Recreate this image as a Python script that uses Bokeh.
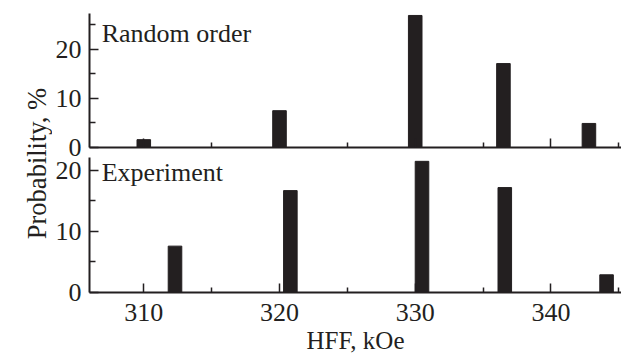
from bokeh.plotting import figure
from bokeh.models import Range1d, FixedTicker, Label
from bokeh.layouts import row, column
from bokeh.embed import file_html
from bokeh.resources import INLINE

# ---- data ----
hff_random = [310.0, 320.0, 330.0, 336.5, 342.8]
prob_random = [1.6, 7.5, 26.9, 17.1, 4.9]
hff_exp = [312.3, 320.8, 330.5, 336.6, 344.1]
prob_exp = [7.6, 16.7, 21.5, 17.2, 2.9]
x_major = [310, 320, 330, 340]
x_minor = [305, 315, 325, 335, 345]
y_major = [0, 10, 20]
y_minor = [5, 15, 25]

FONT = "Liberation Serif"
INK = "#231f20"
FS = "26px"
BAR_W = 1.0


def style(p, show_xlabels):
    p.xgrid.visible = False
    p.ygrid.visible = False
    p.outline_line_color = None
    p.background_fill_color = "white"
    p.border_fill_color = "white"
    for ax in (p.xaxis[0], p.yaxis[0]):
        ax.axis_line_width = 2
        ax.axis_line_color = INK
        ax.major_tick_line_color = INK
        ax.minor_tick_line_color = INK
        ax.major_tick_line_width = 1.5
        ax.minor_tick_line_width = 1.5
        ax.major_tick_in = 9
        ax.major_tick_out = 0
        ax.minor_tick_in = 5
        ax.minor_tick_out = 0
        ax.major_label_text_font = FONT
        ax.major_label_text_font_size = FS
        ax.major_label_text_color = INK
        ax.axis_label_text_font = FONT
        ax.axis_label_text_font_size = "25px"
        ax.axis_label_text_font_style = "normal"
        ax.axis_label_text_color = INK
    p.xaxis[0].ticker = FixedTicker(ticks=x_major, minor_ticks=x_minor)
    p.yaxis[0].ticker = FixedTicker(ticks=y_major, minor_ticks=y_minor)
    p.yaxis[0].major_label_standoff = 8
    p.yaxis[0].minor_tick_in = 6
    if show_xlabels:
        p.xaxis[0].major_label_standoff = 11
        p.xaxis[0].axis_label = "HFF, kOe"
        p.xaxis[0].axis_label_standoff = 3
    else:
        p.xaxis[0].major_label_overrides = {t: "" for t in x_major}
        p.xaxis[0].major_label_text_font_size = "1px"
        p.xaxis[0].major_label_standoff = 0


PW = 569
top = figure(width=PW, height=157, output_backend="svg", toolbar_location=None,
             x_range=Range1d(306, 345.2), y_range=Range1d(0, 27.3),
             min_border_left=35, min_border_right=0, min_border_top=13, min_border_bottom=10)
style(top, False)
top.vbar(x=hff_random, top=prob_random, bottom=0, width=BAR_W, fill_color=INK, line_color=INK)
top.add_layout(Label(x=306.9, y=23.2, text="Random order", text_font=FONT, text_font_size=FS,
                     text_color=INK, text_baseline="alphabetic"))

bot = figure(width=PW, height=199, output_backend="svg", toolbar_location=None,
             x_range=Range1d(306, 345.2), y_range=Range1d(0, 22.13),
             min_border_left=35, min_border_right=0, min_border_top=0, min_border_bottom=64)
style(bot, True)
bot.vbar(x=hff_exp, top=prob_exp, bottom=0, width=BAR_W, fill_color=INK, line_color=INK)
bot.add_layout(Label(x=306.9, y=19.6, text="Experiment", text_font=FONT, text_font_size=FS,
                     text_color=INK, text_baseline="alphabetic"))

lab = figure(width=52, height=356, output_backend="svg", toolbar_location=None,
             x_range=Range1d(0, 52), y_range=Range1d(0, 356),
             min_border_left=0, min_border_right=0, min_border_top=0, min_border_bottom=0)
lab.axis.visible = False
lab.grid.visible = False
lab.outline_line_color = None
lab.add_layout(Label(x=36, y=193, text="Probability, %", angle=90, angle_units="deg",
                     text_font=FONT, text_font_size="26.5px", text_color=INK,
                     text_align="center", text_baseline="middle"))

layout = row(lab, column(top, bot, spacing=0), spacing=0)
open("out.html", "w").write(file_html(layout, INLINE))
